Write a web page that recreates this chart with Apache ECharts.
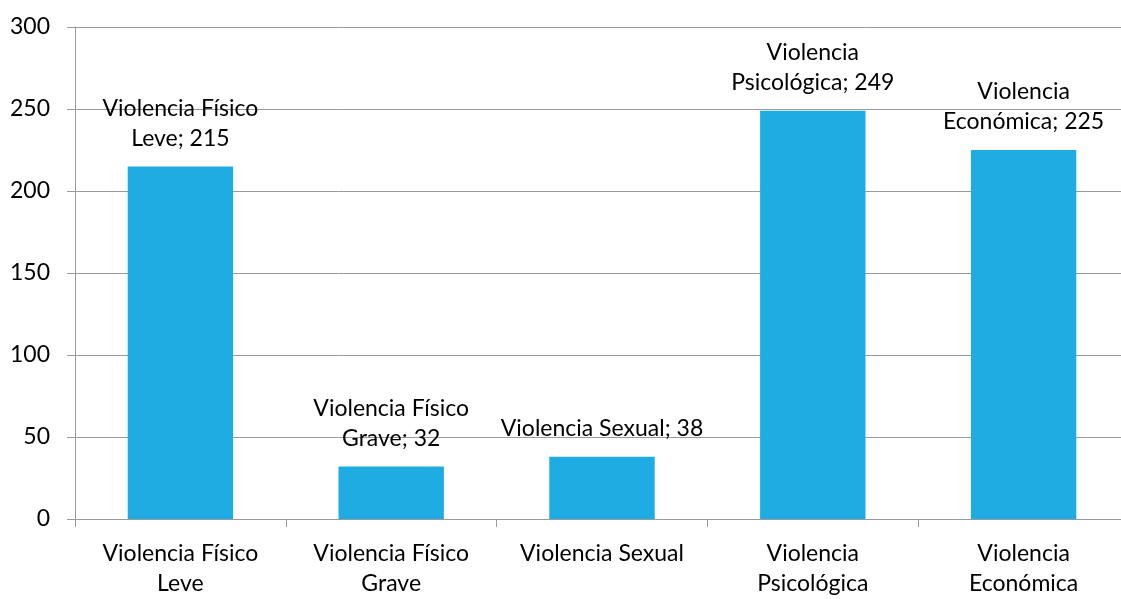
<!DOCTYPE html>
<html>
<head>
<meta charset="utf-8">
<script src="https://cdn.jsdelivr.net/npm/echarts@6/dist/echarts.min.js"></script>
<style>
html, body { margin: 0; padding: 0; background: #fff; overflow: hidden; }
/* a little wider than the window: the plot runs past the right edge */
#main { width: 1129px; height: 599px; }
</style>
</head>
<body>
<div id="main"></div>
<script>
var categories = ['Violencia Físico\nLeve', 'Violencia Físico\nGrave', 'Violencia Sexual', 'Violencia\nPsicológica', 'Violencia\nEconómica'];
var values = [215, 32, 38, 249, 225];
var yTicks = [0, 50, 100, 150, 200, 250, 300];

var fontFamily = 'Lato, "Open Sans", sans-serif';
var myChart = echarts.init(document.getElementById('main'));
var option = {
    animation: false,
    grid: { left: 75, right: 0, top: 27, bottom: 80, containLabel: false },
    xAxis: {
        type: 'category',
        data: categories,
        axisLine: { lineStyle: { color: '#9a9a9a', width: 1 } },
        axisTick: { show: true, length: 8, alignWithLabel: false, lineStyle: { color: '#9a9a9a' } },
        axisLabel: {
            color: '#000', fontSize: 23, fontFamily: fontFamily,
            lineHeight: 30, margin: 20, interval: 0
        }
    },
    yAxis: {
        type: 'value',
        min: yTicks[0],
        max: yTicks[yTicks.length - 1],
        interval: 50,
        axisLine: { show: true, lineStyle: { color: '#9a9a9a', width: 1 } },
        axisTick: { show: true, length: 8, lineStyle: { color: '#9a9a9a' } },
        axisLabel: { color: '#000', fontSize: 23, fontFamily: fontFamily, margin: 25 },
        splitLine: { show: true, lineStyle: { color: '#9a9a9a', width: 1 } }
    },
    series: [{
        type: 'bar',
        data: values,
        barWidth: '50%',
        itemStyle: { color: '#1facE3' },
        label: {
            show: true,
            position: 'top',
            distance: 13,
            color: '#000',
            fontSize: 23,
            fontFamily: fontFamily,
            lineHeight: 30,
            formatter: function (p) { return p.name + '; ' + p.value; }
        }
    }]
};
myChart.setOption(option);
</script>
</body>
</html>
